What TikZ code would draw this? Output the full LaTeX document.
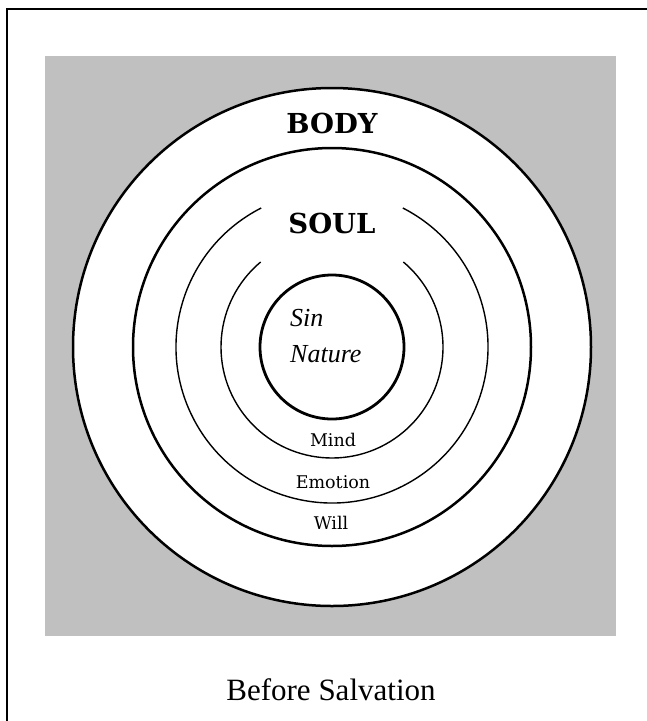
\documentclass[tikz,border=0pt]{standalone}
\usepackage{fontspec}
\setmainfont{Liberation Serif}
\newfontfamily\schfont{DejaVu Serif}
\usepackage{xcolor}
\usetikzlibrary{calc}
\definecolor{BG}{HTML}{C0C0C0}

\begin{document}
\begin{tikzpicture}[x=1pt,y=-1pt,
    ringline/.style={line width=2.5pt},
    arcline/.style={line width=1.4pt},
    headword/.style={anchor=base, inner sep=0pt,
      font=\schfont\bfseries\fontsize{27.5}{27.5}\selectfont},
    partword/.style={anchor=base, inner sep=0pt,
      font=\schfont\fontsize{17.5}{17.5}\selectfont}]
  \useasboundingbox (0,0) rectangle (647,721);
  % frame and background
  \coordinate (frameTL) at (7,8.5);
  \coordinate (frameTR) at (647,8.5);
  \coordinate (frameBL) at (7,721);
  \draw[line width=2pt] (frameTR) -- (frameTL) -- (frameBL);
  \fill[BG] (45,56) rectangle (616,636);
  % rings
  \coordinate (c) at (332,347);
  \draw[ringline, fill=white] (c) circle[radius=259];
  \draw[ringline] (c) circle[radius=199];
  \draw[arcline] ($(c)+(-117:156)$) arc[start angle=-117, end angle=-423, radius=156];
  \draw[arcline] ($(c)+(-130:111)$) arc[start angle=-130, end angle=-410, radius=111];
  \draw[line width=2.8pt] (c) circle[radius=72];
  % labels
  \node[headword] (body) at (332,133) {BODY};
  \node[headword] (soul) at (332,233) {SOUL};
  \node[partword] (mind) at (333,446) {Mind};
  \node[partword] (emotion) at (333,488) {Emotion};
  \node[partword] (will) at (331,529) {Will};
  \node[anchor=base west, inner sep=0pt, font=\itshape\fontsize{26}{26}\selectfont] (sin) at (290,326) {Sin};
  \node[anchor=base west, inner sep=0pt, font=\itshape\fontsize{26}{26}\selectfont] (nature) at (290,362) {Nature};
  \node[anchor=base, inner sep=0pt, font=\fontsize{31}{31}\selectfont] (caption) at (331,700) {Before Salvation};
\end{tikzpicture}
\end{document}
